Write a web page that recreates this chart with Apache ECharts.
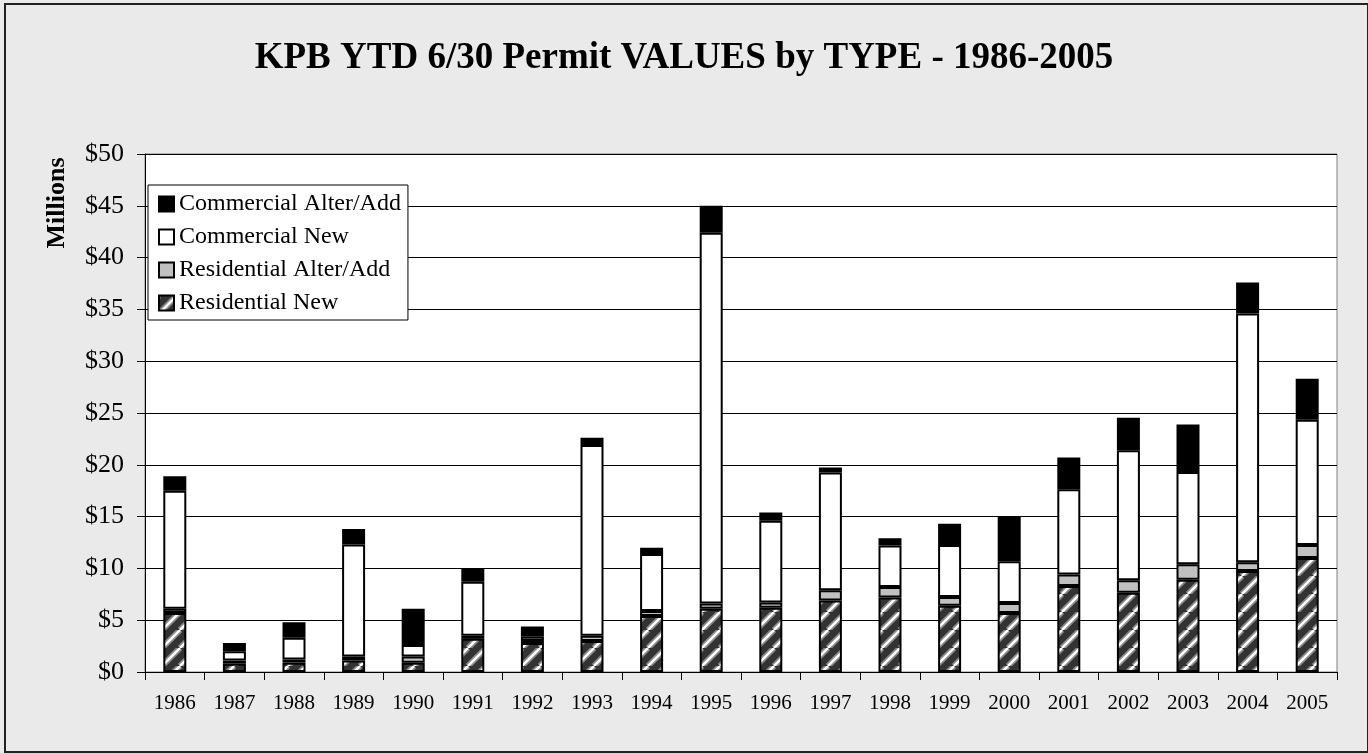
<!DOCTYPE html>
<html>
<head>
<meta charset="utf-8">
<title>KPB YTD 6/30 Permit VALUES by TYPE - 1986-2005</title>
<script src="https://cdn.jsdelivr.net/npm/echarts@6/dist/echarts.min.js"></script>
<style>
  html, body { margin: 0; padding: 0; background: #ffffff; }
  #wrap { position: relative; width: 1368px; height: 753px; }
  #chart { position: absolute; left: 0; top: 0; width: 1368px; height: 753px; background: #eaeaea; }
  #frame { position: absolute; left: 4px; top: 3px; width: 1361px; height: 746px;
           border: 2px solid #222; pointer-events: none; }
</style>
</head>
<body>
<div id="wrap">
  <div id="chart"></div>
  <div id="frame"></div>
</div>
<script>
// values in $ millions
var years = ['1986','1987','1988','1989','1990','1991','1992','1993','1994','1995',
             '1996','1997','1998','1999','2000','2001','2002','2003','2004','2005'];
var residentialNew   = [5.7, 0.8, 0.9, 1.1, 0.9, 3.2, 2.8, 3.0, 5.4, 6.1, 6.2, 6.9, 7.2, 6.4, 5.7, 8.3, 7.65, 8.9, 9.75, 11.0];
var residentialAlter = [0.4, 0.3, 0.3, 0.4, 0.6, 0.3, 0.2, 0.5, 0.5, 0.5, 0.5, 1.0, 1.0, 0.85, 0.95, 1.1, 1.2, 1.5, 0.85, 1.25];
var commercialNew    = [11.4, 0.9, 2.1, 10.8, 1.1, 5.2, 0.4, 18.4, 5.5, 35.8, 7.9, 11.35, 4.0, 5.0, 4.05, 8.25, 12.55, 8.9, 24.0, 12.1];
var commercialAlter  = [1.4, 0.8, 1.5, 1.5, 3.5, 1.3, 1.0, 0.7, 0.6, 2.6, 0.8, 0.5, 0.7, 2.05, 4.25, 3.05, 3.15, 4.6, 3.0, 3.95];
var yTicks = { min: 0, max: 50, interval: 5 };

var FONT = 'Liberation Serif, Times New Roman, serif';

// hatch tile for residential new (dark with white "/" stripes)
function makeHatch() {
    var c = document.createElement('canvas');
    c.width = 18; c.height = 18;
    var g = c.getContext('2d');
    g.fillStyle = '#333333';
    g.fillRect(0, 0, 18, 18);
    [-18, 0, 18].forEach(function (k) {
        g.strokeStyle = '#8a8a8a';
        g.lineWidth = 6;
        g.beginPath(); g.moveTo(k, 18); g.lineTo(k + 18, 0); g.stroke();
    });
    [-18, 0, 18].forEach(function (k) {
        g.strokeStyle = '#ffffff';
        g.lineWidth = 2.5;
        g.beginPath(); g.moveTo(k, 18); g.lineTo(k + 18, 0); g.stroke();
    });
    return c;
}

var chart = echarts.init(document.getElementById('chart'));

function barSeries(name, data, color) {
    return {
        name: name,
        type: 'bar',
        stack: 'total',
        barWidth: 23,
        data: data,
        itemStyle: { color: color, borderColor: '#000', borderWidth: 2 },
        emphasis: { disabled: true }
    };
}

var option = {
    animation: false,
    backgroundColor: '#eaeaea',
    title: {
        text: 'KPB YTD 6/30 Permit VALUES by TYPE - 1986-2005',
        left: 'center',
        top: 35,
        textStyle: { fontFamily: FONT, fontSize: 37, fontWeight: 'bold', color: '#000' }
    },
    legend: {
        orient: 'vertical',
        left: 148,
        top: 185,
        icon: 'rect',
        data: ['Commercial Alter/Add', 'Commercial New', 'Residential Alter/Add', 'Residential New'],
        itemWidth: 15,
        itemHeight: 15,
        itemGap: 9,
        padding: [7, 7, 5, 10],
        backgroundColor: '#fff',
        borderColor: '#000',
        borderWidth: 1,
        textStyle: { fontFamily: FONT, fontSize: 24, color: '#000' }
    },
    graphic: [{
        type: 'text',
        x: 57,
        y: 203,
        rotation: Math.PI / 2,
        style: {
            text: 'Millions',
            font: 'bold 26px ' + FONT,
            fill: '#000',
            textAlign: 'center',
            textVerticalAlign: 'middle'
        }
    }],
    grid: {
        left: 145, right: 31, top: 154, bottom: 81,
        show: true, backgroundColor: '#fff', borderColor: '#808080', borderWidth: 1
    },
    xAxis: {
        type: 'category',
        data: years,
        axisLine: { lineStyle: { color: '#000', width: 1 } },
        axisTick: { show: true, length: 8, lineStyle: { color: '#000' } },
        axisLabel: { interval: 0, margin: 21, fontFamily: FONT, fontSize: 21, color: '#000' }
    },
    yAxis: {
        type: 'value',
        min: yTicks.min,
        max: yTicks.max,
        interval: yTicks.interval,
        axisLine: { show: true, lineStyle: { color: '#000', width: 1 } },
        axisTick: { show: true, length: 8, lineStyle: { color: '#000' } },
        splitLine: { lineStyle: { color: '#000', width: 1 } },
        axisLabel: { margin: 21, fontFamily: FONT, fontSize: 26, color: '#000', formatter: '${value}' }
    },
    series: [
        barSeries('Residential New', residentialNew, { image: makeHatch(), repeat: 'repeat' }),
        barSeries('Residential Alter/Add', residentialAlter, '#c0c0c0'),
        barSeries('Commercial New', commercialNew, '#ffffff'),
        barSeries('Commercial Alter/Add', commercialAlter, '#000000')
    ]
};

chart.setOption(option);
</script>
</body>
</html>
